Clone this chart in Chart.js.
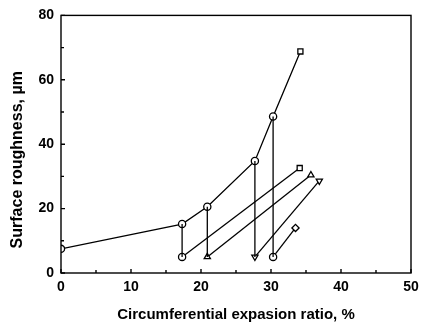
<!DOCTYPE html>
<html>
<head>
<meta charset="utf-8">
<script src="https://cdn.jsdelivr.net/npm/chart.js@4.4.1/dist/chart.umd.min.js"></script>
<style>
  html, body { margin: 0; padding: 0; background: #fff; }
  #wrap { width: 426px; height: 322px; }
</style>
</head>
<body>
<div id="wrap"><canvas id="roughness"></canvas></div>
<script>
// values
var mainX = [0, 17.3, 20.9, 27.7, 30.3, 34.2];
var mainY = [7.5, 15.2, 20.6, 34.8, 48.6, 68.8];
var mainStyle = ['circle', 'circle', 'circle', 'circle', 'circle', 'rect'];

var baseY = 5;
var lowerX = [[17.3, 34.1], [20.9, 35.7], [27.7, 36.9], [30.3, 33.5]];
var lowerY = [[baseY, 32.6], [baseY, 30.4], [baseY, 28.6], [baseY, 14.0]];
var lowerStyle = [['circle', 'rect'], ['triangle', 'triangle'], ['triangle', 'triangle'], ['circle', 'rectRot']];
var lowerRot = [[0, 0], [0, 0], [180, 180], [0, 0]];

var xTicks = [0, 10, 20, 30, 40, 50];
var yTicks = [0, 20, 40, 60, 80];

var pts = function(xs, ys) {
  return xs.map(function(x, i) { return { x: x, y: ys[i] }; });
};

var datasets = [];

// vertical drops from the upper curve to the lower series
for (var i = 1; i <= 4; i++) {
  datasets.push({
    data: [{ x: mainX[i], y: mainY[i] }, { x: mainX[i], y: baseY }],
    borderColor: '#000', borderWidth: 1.3, pointRadius: 0
  });
}

lowerX.forEach(function(xs, k) {
  datasets.push({
    data: pts(xs, lowerY[k]),
    borderColor: '#000', borderWidth: 1.3,
    pointStyle: lowerStyle[k], rotation: lowerRot[k],
    pointRadius: 3.6, pointBackgroundColor: '#fff', pointBorderColor: '#000', pointBorderWidth: 1.3
  });
});

datasets.push({
  data: pts(mainX, mainY),
  borderColor: '#000', borderWidth: 1.3,
  pointStyle: mainStyle,
  pointRadius: 3.6, pointBackgroundColor: '#fff', pointBorderColor: '#000', pointBorderWidth: 1.3
});

// box round the plot and inward tick marks
var frame = {
  id: 'frame',
  afterDatasetsDraw: function(chart) {
    var c = chart.ctx, a = chart.chartArea;
    var xs = chart.scales.x, ys = chart.scales.y;
    c.save();
    c.strokeStyle = '#000';
    c.lineWidth = 1.4;
    c.strokeRect(a.left, a.top, a.right - a.left, a.bottom - a.top);
    c.beginPath();
    for (var v = 0; v <= 50; v += 5) {
      var px = xs.getPixelForValue(v);
      var len = v % 10 === 0 ? 4 : 3;
      c.moveTo(px, a.bottom); c.lineTo(px, a.bottom - len);
    }
    for (var w = 0; w <= 80; w += 10) {
      var py = ys.getPixelForValue(w);
      var l2 = w % 20 === 0 ? 4 : 3;
      c.moveTo(a.left, py); c.lineTo(a.left + l2, py);
    }
    c.stroke();
    c.restore();
  }
};

var tickFont = { family: 'Liberation Sans, Arial, sans-serif', size: 14, weight: 'bold' };
var xTitleFont = { family: 'Liberation Sans, Arial, sans-serif', size: 15, weight: 'bold', lineHeight: 1 };
var yTitleFont = { family: 'Liberation Sans, Arial, sans-serif', size: 16, weight: 'bold', lineHeight: 1 };

new Chart(document.getElementById('roughness'), {
  type: 'line',
  data: { datasets: datasets },
  options: {
    responsive: true,
    maintainAspectRatio: false,
    animation: false,
    layout: { padding: { top: 11, right: 15, left: 0, bottom: 0 } },
    plugins: { legend: { display: false }, tooltip: { enabled: false } },
    elements: { line: { tension: 0 } },
    scales: {
      x: {
        type: 'linear', min: 0, max: 50,
        afterBuildTicks: function(s) { s.ticks = xTicks.map(function(v) { return { value: v }; }); },
        afterFit: function(s) { s.height = 49; },
        grid: { display: false, drawTicks: false },
        border: { display: false },
        ticks: { color: '#000', font: tickFont, padding: 6, maxRotation: 0 },
        title: { display: true, text: 'Circumferential expasion ratio, %', color: '#000', font: xTitleFont, padding: { top: 0, bottom: 0 } }
      },
      y: {
        type: 'linear', min: 0, max: 80,
        afterBuildTicks: function(s) { s.ticks = yTicks.map(function(v) { return { value: v }; }); },
        afterFit: function(s) { s.width = 61; },
        grid: { display: false, drawTicks: false },
        border: { display: false },
        ticks: { color: '#000', font: tickFont, padding: 7 },
        // trailing spaces nudge the title down, it sits below centre in the original
        title: { display: true, text: 'Surface roughness, µm       ', color: '#000', font: yTitleFont, padding: { top: 10, bottom: 0 } }
      }
    }
  },
  plugins: [frame]
});
</script>
</body>
</html>
